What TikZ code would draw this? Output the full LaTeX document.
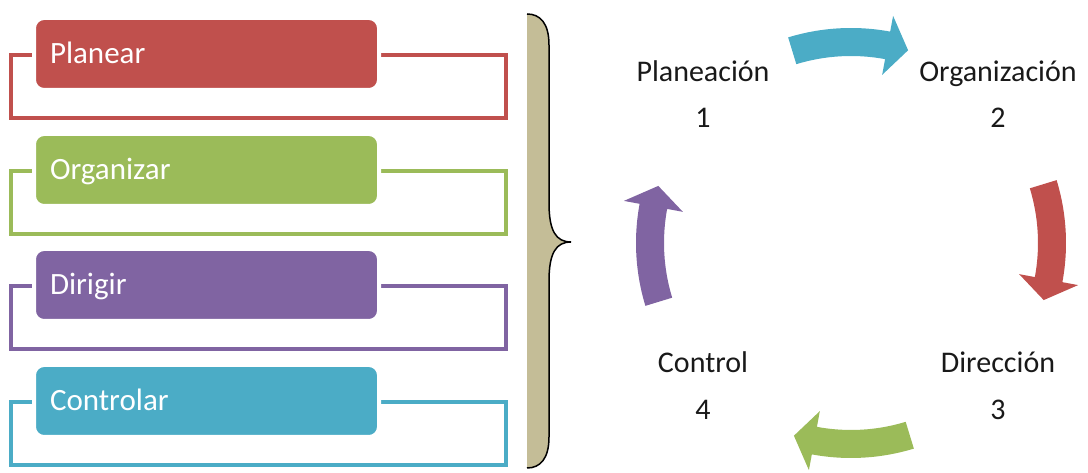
\documentclass[tikz,border=0pt]{standalone}
\usepackage{fontspec}
\setmainfont{Carlito}
\definecolor{cred}{HTML}{C0504D}
\definecolor{cgreen}{HTML}{9BBB59}
\definecolor{cpurple}{HTML}{8064A2}
\definecolor{cteal}{HTML}{4BACC6}
\definecolor{ctan}{HTML}{C4BD97}
\begin{document}
\begin{tikzpicture}[x=1pt,y=1pt,
  stepbox/.style={draw=white, line width=4pt, rounded corners=10pt,
    minimum width=345pt, minimum height=72pt, text width=313pt,
    inner xsep=16pt, inner ysep=0pt, align=left,
    text height=19pt, text depth=0pt, text=white,
    font=\fontsize{31}{36}\selectfont},
  frameline/.style={line width=4pt},
  phase/.style={font=\fontsize{30}{36}\selectfont, anchor=base, text=black!90},
  bracefill/.style={fill=ctan},
  braceline/.style={draw=black, line width=1.5pt}]
\useasboundingbox (0,0) rectangle (1088,473);

% the four steps, each box set over an open frame
\foreach \i/\txt/\col/\y in {1/Planear/cred/419, 2/Organizar/cgreen/303,
                             3/Dirigir/cpurple/188, 4/Controlar/cteal/72} {
  \draw[frameline, draw=\col] (11,\y-1) rectangle (506,\y-64);
  \node[stepbox, fill=\col] (box\i) at (206.5,\y) {\txt};
}

% curly brace
\fill[bracefill] (527,459) .. controls (540,459) and (549,450) .. (549,428)
  -- (549,270) .. controls (549,242) and (556,231) .. (571,231)
  .. controls (556,231) and (549,220) .. (549,192)
  -- (549,36) .. controls (549,14) and (540,5) .. (527,5) -- cycle;
\draw[braceline] (527,459) .. controls (540,459) and (549,450) .. (549,428)
  -- (549,270) .. controls (549,242) and (556,231) .. (571,231)
  .. controls (556,231) and (549,220) .. (549,192)
  -- (549,36) .. controls (549,14) and (540,5) .. (527,5);

% cycle labels
\node[phase] (p1) at (703,391) {Planeación};
\node[phase] (n1) at (703,345) {1};
\node[phase] (p2) at (998,391) {Organización};
\node[phase] (n2) at (998,345) {2};
\node[phase] (p3) at (998,100) {Dirección};
\node[phase] (n3) at (998,53) {3};
\node[phase] (p4) at (703,100) {Control};
\node[phase] (n4) at (703,53) {4};

% curved block arrows around the cycle
\begin{scope}[shift={(851,230)}]
\foreach \m/\col in {90/cteal, 0/cred, -90/cgreen, 180/cpurple} {
  \fill[\col] (\m+17:215) arc[start angle=\m+17, end angle=\m-10.5, radius=215]
    -- (\m-10.5:231) -- (\m-16.5:201) -- (\m-10.5:171) -- (\m-10.5:187)
    arc[start angle=\m-10.5, end angle=\m+17, radius=187] -- cycle;
}
\end{scope}
\end{tikzpicture}
\end{document}
